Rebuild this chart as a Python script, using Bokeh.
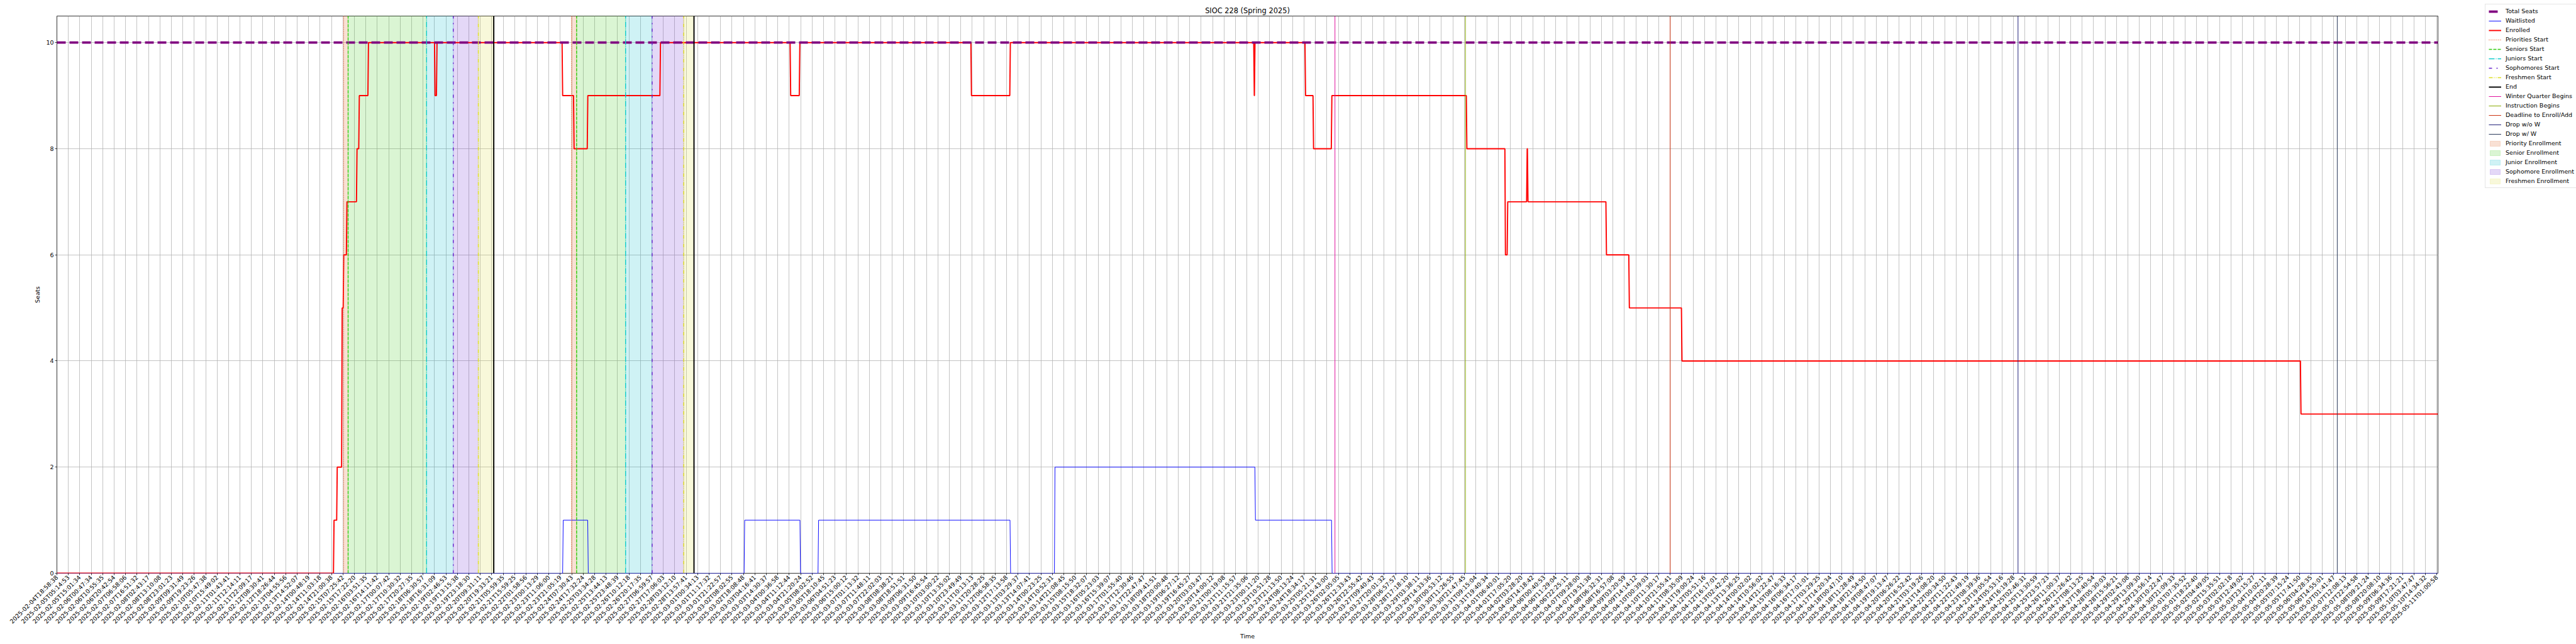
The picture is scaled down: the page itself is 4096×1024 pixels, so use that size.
import math
from bokeh.plotting import figure
from bokeh.models import Range1d, Legend, LegendItem, FixedTicker
from bokeh.embed import file_html
from bokeh.resources import INLINE

title = "SIOC 228 (Spring 2025)"

tick_labels = [
    "2025-02-04T18:58:38", "2025-02-05T05:14:53", "2025-02-05T15:01:34", "2025-02-06T00:47:34",
    "2025-02-06T10:55:35", "2025-02-06T20:42:54", "2025-02-07T06:58:06", "2025-02-07T16:51:32",
    "2025-02-08T02:43:17", "2025-02-08T13:10:08", "2025-02-08T23:01:23", "2025-02-09T09:31:49",
    "2025-02-09T19:23:26", "2025-02-10T05:47:38", "2025-02-10T15:49:02", "2025-02-11T01:43:41",
    "2025-02-11T12:14:11", "2025-02-11T22:09:17", "2025-02-12T08:30:41", "2025-02-12T18:26:44",
    "2025-02-13T04:55:56", "2025-02-13T14:52:07", "2025-02-14T00:48:19", "2025-02-14T11:03:18",
    "2025-02-14T21:00:38", "2025-02-15T07:25:42", "2025-02-15T17:22:20", "2025-02-16T03:51:35",
    "2025-02-16T14:11:42", "2025-02-17T00:07:42", "2025-02-17T10:30:32", "2025-02-17T20:27:35",
    "2025-02-18T06:30:57", "2025-02-18T16:31:09", "2025-02-19T02:46:53", "2025-02-19T13:15:38",
    "2025-02-19T23:18:30", "2025-02-20T09:31:11", "2025-02-20T19:33:21", "2025-02-21T05:59:35",
    "2025-02-21T15:59:25", "2025-02-22T01:58:56", "2025-02-23T00:13:29", "2025-02-23T11:06:00",
    "2025-02-23T21:05:19", "2025-02-24T07:30:43", "2025-02-24T17:32:24", "2025-02-25T03:34:28",
    "2025-02-25T13:44:13", "2025-02-25T23:48:39", "2025-02-26T10:12:18", "2025-02-26T20:17:35",
    "2025-02-27T06:59:57", "2025-02-27T17:06:03", "2025-02-28T03:12:10", "2025-02-28T13:57:41",
    "2025-03-01T00:34:13", "2025-03-01T11:17:32", "2025-03-01T21:22:57", "2025-03-02T08:02:55",
    "2025-03-02T18:08:48", "2025-03-03T04:16:41", "2025-03-03T14:30:37", "2025-03-04T00:36:58",
    "2025-03-04T11:12:44", "2025-03-04T21:20:24", "2025-03-05T08:02:52", "2025-03-05T18:10:45",
    "2025-03-06T04:51:23", "2025-03-06T15:00:12", "2025-03-07T01:13:32", "2025-03-07T11:48:11",
    "2025-03-07T22:02:03", "2025-03-08T08:38:21", "2025-03-08T18:51:51", "2025-03-09T06:31:50",
    "2025-03-09T16:45:54", "2025-03-10T03:00:22", "2025-03-10T13:35:02", "2025-03-10T23:49:49",
    "2025-03-11T10:13:13", "2025-03-11T20:28:25", "2025-03-12T06:58:35", "2025-03-12T17:13:58",
    "2025-03-13T03:29:37", "2025-03-13T14:07:41", "2025-03-14T00:23:25", "2025-03-14T10:52:31",
    "2025-03-14T21:08:45", "2025-03-15T08:15:50", "2025-03-15T18:32:07", "2025-03-16T05:23:03",
    "2025-03-16T15:39:07", "2025-03-17T01:55:40", "2025-03-17T12:30:46", "2025-03-17T22:47:47",
    "2025-03-18T09:41:51", "2025-03-18T20:00:48", "2025-03-19T06:27:12", "2025-03-19T16:45:27",
    "2025-03-20T03:03:47", "2025-03-20T14:00:12", "2025-03-21T00:19:08", "2025-03-21T11:15:57",
    "2025-03-21T21:35:06", "2025-03-23T00:11:20", "2025-03-23T10:51:28", "2025-03-23T21:13:50",
    "2025-03-24T08:13:24", "2025-03-24T18:34:17", "2025-03-25T05:21:31", "2025-03-25T15:43:00",
    "2025-03-26T02:05:05", "2025-03-26T12:33:43", "2025-03-26T22:55:42", "2025-03-27T09:40:43",
    "2025-03-27T20:01:32", "2025-03-28T06:57:57", "2025-03-28T17:18:10", "2025-03-29T03:38:11",
    "2025-03-29T14:33:36", "2025-03-30T00:53:12", "2025-03-30T11:26:55", "2025-03-30T21:47:45",
    "2025-03-31T09:15:04", "2025-03-31T19:40:34", "2025-04-01T06:40:01", "2025-04-01T17:05:20",
    "2025-04-02T03:28:20", "2025-04-05T14:18:42", "2025-04-06T00:40:53", "2025-04-06T11:29:04",
    "2025-04-06T22:25:11", "2025-04-07T09:28:00", "2025-04-07T19:51:38", "2025-04-08T06:32:31",
    "2025-04-08T16:57:08", "2025-04-09T03:20:59", "2025-04-09T14:14:12", "2025-04-10T00:39:03",
    "2025-04-10T11:30:17", "2025-04-10T21:55:41", "2025-04-11T08:35:09", "2025-04-11T19:00:24",
    "2025-04-12T05:51:16", "2025-04-12T16:17:01", "2025-04-13T02:42:20", "2025-04-13T13:36:25",
    "2025-04-14T00:02:02", "2025-04-14T10:56:02", "2025-04-14T21:22:47", "2025-04-15T08:16:33",
    "2025-04-16T06:34:17", "2025-04-16T17:01:01", "2025-04-17T03:29:25", "2025-04-17T14:20:34",
    "2025-04-18T00:47:10", "2025-04-18T11:28:49", "2025-04-18T21:54:50", "2025-04-19T08:47:07",
    "2025-04-19T19:13:47", "2025-04-20T06:26:22", "2025-04-20T16:52:42", "2025-04-21T03:19:26",
    "2025-04-21T14:08:20", "2025-04-22T00:34:50", "2025-04-22T11:22:43", "2025-04-22T21:49:19",
    "2025-04-23T08:39:36", "2025-04-23T19:05:54", "2025-04-24T05:53:16", "2025-04-24T16:19:28",
    "2025-04-25T02:46:31", "2025-04-25T13:30:59", "2025-04-25T23:57:23", "2025-04-26T11:00:37",
    "2025-04-26T21:26:42", "2025-04-27T08:13:25", "2025-04-27T18:40:54", "2025-04-28T05:30:03",
    # the last labels could not be read precisely; estimated
    "2025-04-28T15:56:21", "2025-04-29T02:43:08", "2025-04-29T13:09:30", "2025-04-29T23:56:14",
    "2025-04-30T10:22:47", "2025-04-30T21:09:33", "2025-05-01T07:35:52", "2025-05-01T18:22:40",
    "2025-05-02T04:49:05", "2025-05-02T15:35:51", "2025-05-03T02:02:18", "2025-05-03T12:49:02",
    "2025-05-03T23:15:27", "2025-05-04T10:02:11", "2025-05-04T20:28:39", "2025-05-05T07:15:24",
    "2025-05-05T17:41:50", "2025-05-06T04:28:35", "2025-05-06T14:55:01", "2025-05-07T01:41:47",
    "2025-05-07T12:08:13", "2025-05-07T22:54:58", "2025-05-08T09:21:24", "2025-05-08T20:08:10",
    "2025-05-09T06:34:36", "2025-05-09T17:21:21", "2025-05-10T03:47:47", "2025-05-10T14:34:32",
    "2025-05-11T01:00:58",
]

total_seats = 10
x_last = 208.1

# Enrolled: change positions (tick units) and new values
enrolled_t = [0, 24.17, 24.45, 24.88, 25.02, 25.3, 26.18, 26.38, 27.18, 33.0, 33.17,
              44.15, 45.15, 46.35, 52.7, 64.08, 64.88, 79.88, 83.28, 104.6, 104.66,
              109.08, 109.78, 111.38, 123.18, 126.55, 126.75, 128.45, 128.52, 135.38,
              137.38, 141.98, 196.08]
enrolled_v = [0, 1, 2, 5, 6, 7, 8, 9, 10, 9, 10,
              9, 8, 9, 10, 9, 10, 9, 10, 9, 10,
              9, 8, 9, 8, 6, 7, 8, 7, 6,
              5, 4, 3]

waitlist_t = [0, 44.2, 46.39, 60.06, 64.94, 66.52, 83.3, 87.18, 104.7, 111.4]
waitlist_v = [0, 1, 0, 1, 0, 1, 0, 2, 1, 0]

priority_start = [25.06, 44.97]
seniors_start = [25.45, 45.42]
juniors_start = [32.31, 49.70]
sophomores_start = [34.64, 52.02]
freshmen_start = [36.83, 54.78]
end_marks = [38.18, 55.68]
quarter_begins = [111.7]
instruction_begins = [123.1]
enroll_deadline = [141.0]
drop_no_w = [171.4]
drop_w = [199.3]

FONT = "DejaVu Sans"
Y_TOP = 10.5
RAMP = 0.05
FRAME_W, FRAME_H = 3786, 886


def step_vertices(ts, vs, x_end):
    xs, ys = [ts[0]], [vs[0]]
    for i in range(1, len(ts)):
        xs.append(ts[i]); ys.append(vs[i - 1])
        xs.append(ts[i] + RAMP); ys.append(vs[i])
    xs.append(x_end); ys.append(vs[-1])
    return xs, ys


p = figure(frame_width=FRAME_W, frame_height=FRAME_H, output_backend="svg", toolbar_location=None,
           x_range=Range1d(0, x_last), y_range=Range1d(0, Y_TOP),
           min_border_left=90, min_border_right=210, min_border_top=25, min_border_bottom=0,
           title=title)
p.background_fill_color = "white"
p.border_fill_color = "white"
p.outline_line_color = "black"
p.outline_line_width = 0.8

p.title.text_font = FONT
p.title.text_font_size = "11.4px"
p.title.text_font_style = "normal"
p.title.text_color = "black"
p.title.align = "center"
p.title.standoff = 4

xt = FixedTicker(ticks=list(range(len(tick_labels))))
p.xaxis.ticker = xt
p.xaxis.major_label_overrides = {i: s for i, s in enumerate(tick_labels)}
p.xaxis.major_label_orientation = math.pi / 4
p.yaxis.ticker = FixedTicker(ticks=[0, 2, 4, 6, 8, 10])
for ax in (p.xaxis, p.yaxis):
    ax.major_label_text_font = FONT
    ax.major_label_text_font_size = "9.5px"
    ax.major_label_text_color = "black"
    ax.axis_label_text_font = FONT
    ax.axis_label_text_font_size = "9.5px"
    ax.axis_label_text_font_style = "normal"
    ax.axis_label_text_color = "black"
    ax.axis_line_color = None
    ax.major_tick_line_color = "black"
    ax.major_tick_line_width = 0.8
    ax.major_tick_out = 3
    ax.major_tick_in = 0
    ax.minor_tick_line_color = None
    ax.major_label_standoff = 2
p.xaxis.axis_label = "Time"
p.yaxis.axis_label = "Seats"

p.xgrid.ticker = xt
p.ygrid.ticker = FixedTicker(ticks=[0, 2, 4, 6, 8, 10])
for g in (p.xgrid, p.ygrid):
    g.grid_line_color = "#b0b0b0"
    g.grid_line_width = 0.75


def span(starts, ends, color):
    return p.quad(left=starts, right=ends, bottom=0, top=Y_TOP, fill_color=color,
                  fill_alpha=0.2, line_color=color, line_alpha=0.25, line_width=0.8)


r_ps = span(priority_start, seniors_start, "#e0622a")
r_ss = span(seniors_start, juniors_start, "#44cc22")
r_js = span(juniors_start, sophomores_start, "#11bfcc")
r_os = span(sophomores_start, freshmen_start, "#7a3ed6")
r_fs = span(freshmen_start, end_marks, "#dddd44")


def vline(xs, color, width, dash="solid"):
    n = len(xs)
    return p.segment(x0=xs, y0=[0] * n, x1=xs, y1=[Y_TOP] * n, line_color=color,
                     line_width=width, line_dash=dash)


ex, ey = step_vertices(enrolled_t, enrolled_v, x_last)
wx, wy = step_vertices(waitlist_t, waitlist_v, x_last)

r_wl = p.line(wx, wy, line_color="blue", line_width=0.95)
r_en = p.line(ex, ey, line_color="red", line_width=1.9)
r_tot = p.line([0, x_last], [total_seats, total_seats], line_color="purple", line_width=3.8,
               line_dash="14 6")

r_p = vline(priority_start, "#ee7040", 1.4, "1 2")
r_s = vline(seniors_start, "#33cc11", 1.4, "5 2")
r_j = vline(juniors_start, "#11cccc", 1.4, "9 2 1 2")
r_o = vline(sophomores_start, "#6622cc", 1.4, "5 7 2 7")
r_f = vline(freshmen_start, "#dddd22", 1.4, "6 2 1 2 1 2")
r_end = vline(end_marks, "black", 1.9)
r_q = vline(quarter_begins, "#e0119d", 1.0)
r_i = vline(instruction_begins, "#88aa00", 1.0)
r_d = vline(enroll_deadline, "#cc3311", 1.0)
r_dn = vline(drop_no_w, "#22227a", 1.0)
r_dw = vline(drop_w, "#2a3a5a", 1.0)

items = [
    ("Total Seats", r_tot), ("Waitlisted", r_wl), ("Enrolled", r_en),
    ("Priorities Start", r_p), ("Seniors Start", r_s), ("Juniors Start", r_j),
    ("Sophomores Start", r_o), ("Freshmen Start", r_f), ("End", r_end),
    ("Winter Quarter Begins", r_q), ("Instruction Begins", r_i),
    ("Deadline to Enroll/Add", r_d), ("Drop w/o W", r_dn), ("Drop w/ W", r_dw),
    ("Priority Enrollment", r_ps), ("Senior Enrollment", r_ss), ("Junior Enrollment", r_js),
    ("Sophomore Enrollment", r_os), ("Freshmen Enrollment", r_fs),
]
LEG_H = 274
legend = Legend(items=[LegendItem(label=l, renderers=[r]) for l, r in items],
                location=(75, FRAME_H - LEG_H))
legend.label_text_font = FONT
legend.label_text_font_size = "9.5px"
legend.label_text_color = "black"
legend.label_height = 10
legend.glyph_height = 10
legend.glyph_width = 20
legend.label_standoff = 7
legend.spacing = 4
legend.padding = 5
legend.margin = 0
legend.border_line_color = "#cccccc"
legend.border_line_width = 1
legend.background_fill_alpha = 0.8
p.add_layout(legend, "right")

open("out.html", "w").write(file_html(p, INLINE))
